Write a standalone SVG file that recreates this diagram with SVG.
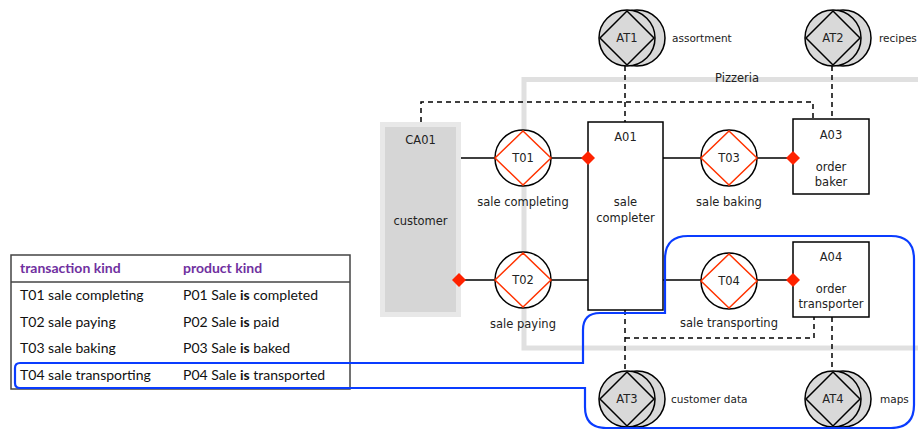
<svg xmlns="http://www.w3.org/2000/svg" width="918" height="429" viewBox="0 0 918 429">
<style>
.t{font-family:"DejaVu Sans",Verdana,sans-serif;fill:#222;text-anchor:middle}
.lbl{font-size:11.5px}
.sm{font-size:10.5px;text-anchor:start}
.tb{font-family:Lato,"Open Sans",sans-serif;font-size:14px;fill:#111}
.hd{font-weight:bold;fill:#7030a0}
.ln{stroke:#000;stroke-width:1.5;fill:none}
.ds{stroke:#000;stroke-width:1.5;fill:none;stroke-dasharray:5,4}
.tc{fill:#fff;stroke:#000;stroke-width:1.5}
.td{fill:none;stroke:#ff3300;stroke-width:1.5}
.rd{fill:#ff2200}
.ac{fill:#d9d9d9;stroke:#000;stroke-width:1.5}
.box{fill:#fff;stroke:#000;stroke-width:1.5}
</style>
<defs>
<g id="at"><circle cx="10" cy="0" r="28" class="ac"/><circle cx="0" cy="0" r="28" class="ac"/><polygon points="0,-27 27,0 0,27 -27,0" fill="none" stroke="#000" stroke-width="1.5"/></g>
<g id="tr"><circle cx="0" cy="0" r="28" class="tc"/><polygon points="0,-27 28,0 0,27 -28,0" class="td"/></g>
<polygon id="rdm" points="0,-7 7,0 0,7 -7,0" class="rd"/>
</defs>
<rect width="918" height="429" fill="#fff"/>
<g id="pizzeria">
<rect x="524" y="79.5" width="420" height="268.5" fill="none" stroke="#e0e0e0" stroke-width="5"/>
<text class="t lbl" x="737" y="82">Pizzeria</text>
</g>
<g id="connectors">
<path class="ds" d="M421,122 V102 H813 V119"/>
<path class="ds" d="M625,66 V122"/>
<path class="ds" d="M832,66 V119"/>
<path class="ds" d="M625,310 V372"/>
<path class="ds" d="M625,338 H814 V317"/>
<path class="ds" d="M832,317 V372"/>
<path class="ln" d="M461,158 H495 M551,158 H588"/>
<path class="ln" d="M663,158 H701 M757,158 H793"/>
<path class="ln" d="M459,280 H495 M551,280 H588"/>
<path class="ln" d="M663,280 H701 M757,280 H793"/>
</g>
<g id="CA01">
<rect x="382.5" y="124.5" width="76" height="190" fill="#d6d6d6" stroke="#e8e8e8" stroke-width="5"/>
<text class="t lbl" x="420.5" y="144">CA01</text>
<text class="t lbl" x="420.5" y="225">customer</text>
</g>
<g id="A01">
<rect x="588" y="122" width="75" height="188" class="box"/>
<text class="t lbl" x="625.5" y="141">A01</text>
<text class="t lbl" x="625.5" y="206">sale</text>
<text class="t lbl" x="625.5" y="222">completer</text>
</g>
<g id="A03">
<rect x="793" y="119" width="76" height="75" class="box"/>
<text class="t lbl" x="831" y="139">A03</text>
<text class="t lbl" x="831" y="171">order</text>
<text class="t lbl" x="831" y="186">baker</text>
</g>
<g id="A04">
<rect x="793" y="242" width="76" height="75" class="box"/>
<text class="t lbl" x="831" y="261">A04</text>
<text class="t lbl" x="831" y="293">order</text>
<text class="t lbl" x="831" y="308">transporter</text>
</g>
<g id="T01">
<use href="#tr" x="523" y="158"/>
<text class="t lbl" x="523" y="162">T01</text>
<text class="t lbl" x="523" y="206">sale completing</text>
<use href="#rdm" x="588" y="158"/>
</g>
<g id="T02">
<use href="#tr" x="523" y="280"/>
<text class="t lbl" x="523" y="284">T02</text>
<text class="t lbl" x="523" y="328">sale paying</text>
<use href="#rdm" x="459" y="280"/>
</g>
<g id="T03">
<use href="#tr" x="729" y="158"/>
<text class="t lbl" x="729" y="162">T03</text>
<text class="t lbl" x="729" y="206">sale baking</text>
<use href="#rdm" x="793" y="158"/>
</g>
<g id="T04">
<use href="#tr" x="729" y="281"/>
<text class="t lbl" x="729" y="285">T04</text>
<text class="t lbl" x="729" y="327">sale transporting</text>
<use href="#rdm" x="793" y="280"/>
</g>
<g id="AT1">
<use href="#at" x="627" y="38"/>
<text class="t lbl" x="627" y="42">AT1</text>
<text class="t sm" x="672" y="42">assortment</text>
</g>
<g id="AT2">
<use href="#at" x="833" y="38"/>
<text class="t lbl" x="833" y="42">AT2</text>
<text class="t sm" x="879" y="42">recipes</text>
</g>
<g id="AT3">
<use href="#at" x="627" y="399"/>
<text class="t lbl" x="627" y="403">AT3</text>
<text class="t sm" x="671" y="403">customer data</text>
</g>
<g id="AT4">
<use href="#at" x="833" y="399"/>
<text class="t lbl" x="833" y="403">AT4</text>
<text class="t sm" x="880" y="403">maps</text>
</g>
<g id="table">
<rect x="11" y="255" width="339" height="134" fill="none" stroke="#444" stroke-width="1.5"/>
<line x1="11" y1="282" x2="350" y2="282" stroke="#444" stroke-width="1.5"/>
<text class="tb hd" x="20" y="273">transaction kind</text>
<text class="tb hd" x="183" y="273">product kind</text>
<text class="tb" x="20" y="300">T01 sale completing</text>
<text class="tb" x="183" y="300">P01 Sale <tspan font-weight="bold">is</tspan> completed</text>
<text class="tb" x="20" y="327">T02 sale paying</text>
<text class="tb" x="183" y="327">P02 Sale <tspan font-weight="bold">is</tspan> paid</text>
<text class="tb" x="20" y="353">T03 sale baking</text>
<text class="tb" x="183" y="353">P03 Sale <tspan font-weight="bold">is</tspan> baked</text>
<text class="tb" x="20" y="380">T04 sale transporting</text>
<text class="tb" x="183" y="380">P04 Sale <tspan font-weight="bold">is</tspan> transported</text>
</g>
<g id="focus">
<path d="M583,363 V330 Q583,313 600,313 H665 V259 Q665,236 688,236 H891 Q914,236 914,259 V405 Q914,428 891,428 H606 Q585,428 585,407 V388 H20 Q15,388 15,383 V368 Q15,363 20,363 Z" fill="none" stroke="#0a3cff" stroke-width="2.2"/>
</g>
</svg>
